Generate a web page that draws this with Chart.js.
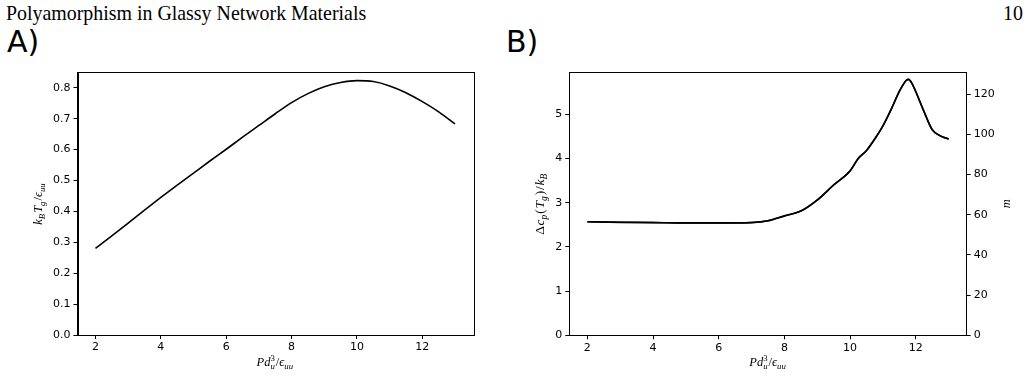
<!DOCTYPE html>
<html>
<head>
<meta charset="utf-8">
<script src="https://cdn.jsdelivr.net/npm/chart.js@4/dist/chart.umd.min.js"></script>
<style>
  html, body { margin:0; padding:0; background:#fff; }
  body { width:1028px; height:380px; position:relative; overflow:hidden; }
  canvas { position:absolute; top:0; }
  .hdr { position:absolute; top:4px; font-family:"Liberation Serif", serif; font-size:19.9px; line-height:1; color:#000; white-space:nowrap; }
  .lab { position:absolute; top:27px; font-family:"DejaVu Sans", sans-serif; font-size:30px; line-height:1; color:#000; }
</style>
</head>
<body>
<div class="hdr" style="left:6px;">Polyamorphism in Glassy Network Materials</div>
<div class="hdr" style="right:5px;">10</div>
<div class="lab" style="left:7px;">A)</div>
<div class="lab" style="left:506px;">B)</div>
<canvas id="ca" width="514" height="380" style="left:0;width:514px;height:380px;"></canvas>
<canvas id="cb" width="514" height="380" style="left:514px;width:514px;height:380px;"></canvas>
<script>
// ---------- data ----------
const xTicks = [2, 4, 6, 8, 10, 12];
const aYTicks = [0.0, 0.1, 0.2, 0.3, 0.4, 0.5, 0.6, 0.7, 0.8];
const bYTicks = [0, 1, 2, 3, 4, 5];
const bY2Ticks = [0, 20, 40, 60, 80, 100, 120];

// Panel A: k_B T_g / eps_uu vs P d_u^3 / eps_uu
const aX = [2, 2.5, 3, 3.5, 4, 4.5, 5, 5.5, 6, 6.5, 7, 7.5, 8, 8.5, 9, 9.5, 10, 10.5, 11, 11.5, 12, 12.5, 13];
const aTg = [0.280, 0.321, 0.362, 0.404, 0.445, 0.485, 0.524, 0.563, 0.601, 0.640, 0.678, 0.716, 0.752, 0.781, 0.803, 0.817, 0.823, 0.820, 0.806, 0.784, 0.755, 0.722, 0.683];

// Panel B: Delta c_p(T_g)/k_B (left axis) and fragility m (right axis)
const bX = [2, 3, 4, 5, 6, 7, 7.5, 8, 8.5, 9, 9.5, 10, 10.25, 10.5, 10.75, 11, 11.25, 11.5, 11.6, 11.7, 11.78, 11.88, 12, 12.25, 12.5, 12.75, 13];
const bCp = [2.57, 2.555, 2.55, 2.54, 2.54, 2.55, 2.59, 2.70, 2.81, 3.06, 3.40, 3.72, 4.00, 4.18, 4.44, 4.74, 5.11, 5.52, 5.65, 5.76, 5.79, 5.70, 5.51, 5.06, 4.65, 4.51, 4.44];
const bM = [56.5, 56.2, 56.1, 55.9, 55.9, 56.1, 57.0, 59.4, 61.8, 67.3, 74.8, 81.8, 88.0, 91.9, 97.6, 104.2, 112.4, 121.4, 124.3, 126.7, 127.3, 125.4, 121.2, 111.3, 102.3, 99.2, 97.6];

// ---------- helpers ----------
const TICK_FONT = { family: "DejaVu Sans", size: 11 };
const pts = (xs, ys) => xs.map((x, i) => ({ x: x, y: ys[i] }));

function mfont(up, size) {
  return (up ? "" : "italic ") + size + "px 'Liberation Serif', serif";
}
function itemWidth(ctx, it, size) {
  ctx.font = mfont(it.up, size);
  let w = ctx.measureText(it.t).width;
  let s = 0;
  if (it.sub) { ctx.font = mfont(it.subUp, size * 0.7); s = Math.max(s, ctx.measureText(it.sub).width); }
  if (it.sup) { ctx.font = mfont(true, size * 0.7); s = Math.max(s, ctx.measureText(it.sup).width); }
  return w + s + (s ? size * 0.08 : 0) + (it.gap || 0) * size;
}
function drawMath(ctx, items, cx, cy, size, rotate) {
  ctx.save();
  ctx.translate(cx, cy);
  if (rotate) ctx.rotate(-Math.PI / 2);
  let total = 0;
  items.forEach(it => total += itemWidth(ctx, it, size));
  let x = -total / 2;
  ctx.fillStyle = "#000";
  ctx.textBaseline = "alphabetic";
  ctx.textAlign = "left";
  items.forEach(it => {
    ctx.font = mfont(it.up, size);
    ctx.fillText(it.t, x, 0);
    let w = ctx.measureText(it.t).width;
    let s = 0;
    if (it.sub) {
      ctx.font = mfont(it.subUp, size * 0.7);
      ctx.fillText(it.sub, x + w, size * 0.25);
      s = Math.max(s, ctx.measureText(it.sub).width);
    }
    if (it.sup) {
      ctx.font = mfont(true, size * 0.7);
      ctx.fillText(it.sup, x + w, -size * 0.42);
      s = Math.max(s, ctx.measureText(it.sup).width);
    }
    x += w + s + (s ? size * 0.08 : 0) + (it.gap || 0) * size;
  });
  ctx.restore();
}

const xTitle = [{ t: "Pd", sub: "u", sup: "3" }, { t: "/", up: true }, { t: "ϵ", sub: "uu" }];
const aYTitle = [{ t: "k", sub: "B" }, { t: "T", sub: "g" }, { t: "/", up: true }, { t: "ϵ", sub: "uu" }];
const bYTitle = [{ t: "Δ", up: true, gap: 0.05 }, { t: "c", sub: "p" }, { t: "(", up: true, gap: 0.05 }, { t: "T", sub: "g" }, { t: ")", up: true, gap: 0.05 }, { t: "/", up: true, gap: 0.05 }, { t: "k", sub: "B" }];
const bY2Title = [{ t: "m" }];

const framePlugin = {
  id: "frameAndTitles",
  afterDraw(chart, args, opts) {
    const ctx = chart.ctx, a = chart.chartArea;
    ctx.save();
    ctx.strokeStyle = "#000";
    ctx.lineWidth = 1;
    ctx.strokeRect(Math.round(a.left) + 0.5, Math.round(a.top) + 0.5, Math.round(a.right - a.left), Math.round(a.bottom - a.top));
    ctx.restore();
    const cxm = (a.left + a.right) / 2, cym = (a.top + a.bottom) / 2;
    drawMath(ctx, xTitle, cxm, a.bottom + 31, 12.5, false);
    (opts.titles || []).forEach(tt => {
      drawMath(ctx, tt.items, tt.x, cym, tt.size, true);
    });
  }
};

function tickAxis(extra) {
  return Object.assign({
    type: "linear",
    grid: { display: true, drawOnChartArea: false, drawTicks: true, tickLength: 4, color: "#000", tickColor: "#000", lineWidth: 1 },
    border: { display: true, color: "#000", width: 1 },
  }, extra);
}
function setTicks(arr) {
  return function (scale) { scale.ticks = arr.map(v => ({ value: v })); };
}
function xAxis(h) {
  return tickAxis({
    min: 1.45, max: 13.55,
    afterBuildTicks: setTicks(xTicks),
    afterFit: s => { s.height = h; },
    ticks: { font: TICK_FONT, color: "#000", padding: 2, maxRotation: 0, callback: v => String(v) }
  });
}

const lineStyle = { borderColor: "#000", borderWidth: 1.6, pointRadius: 0, showLine: true, fill: false, cubicInterpolationMode: "monotone" };

new Chart(document.getElementById("ca"), {
  type: "scatter",
  data: { datasets: [Object.assign({ data: pts(aX, aTg), yAxisID: "y" }, lineStyle)] },
  options: {
    responsive: false, animation: false, devicePixelRatio: 1,
    layout: { padding: { left: 0, top: 72, right: 41, bottom: 0 } },
    plugins: { legend: { display: false }, tooltip: { enabled: false }, frameAndTitles: { titles: [{ items: aYTitle, x: 42, size: 12.5 }] } },
    scales: {
      x: xAxis(45),
      y: tickAxis({
        position: "left", min: 0, max: 0.851,
        afterBuildTicks: setTicks(aYTicks),
        afterFit: s => { s.width = 77.5; },
        ticks: { font: TICK_FONT, color: "#000", padding: 3, callback: v => v.toFixed(1) }
      })
    }
  },
  plugins: [framePlugin]
});

new Chart(document.getElementById("cb"), {
  type: "scatter",
  data: { datasets: [
    Object.assign({ data: pts(bX, bCp), yAxisID: "y" }, lineStyle),
    Object.assign({ data: pts(bX, bM), yAxisID: "y2" }, lineStyle)
  ] },
  options: {
    responsive: false, animation: false, devicePixelRatio: 1,
    layout: { padding: { left: 0, top: 72.3, right: 0, bottom: 0 } },
    plugins: { legend: { display: false }, tooltip: { enabled: false },
      frameAndTitles: { titles: [{ items: bYTitle, x: 30, size: 13.5 }, { items: bY2Title, x: 496, size: 12.5 }] } },
    scales: {
      x: xAxis(44.7),
      y: tickAxis({
        position: "left", min: 0, max: 5.95,
        afterBuildTicks: setTicks(bYTicks),
        afterFit: s => { s.width = 55.3; },
        ticks: { font: TICK_FONT, color: "#000", padding: 3, callback: v => String(v) }
      }),
      y2: tickAxis({
        position: "right", min: 0, max: 130.8,
        afterBuildTicks: setTicks(bY2Ticks),
        afterFit: s => { s.width = 61.3; },
        ticks: { font: TICK_FONT, color: "#000", padding: 3, callback: v => String(v) }
      })
    }
  },
  plugins: [framePlugin]
});
</script>
</body>
</html>
